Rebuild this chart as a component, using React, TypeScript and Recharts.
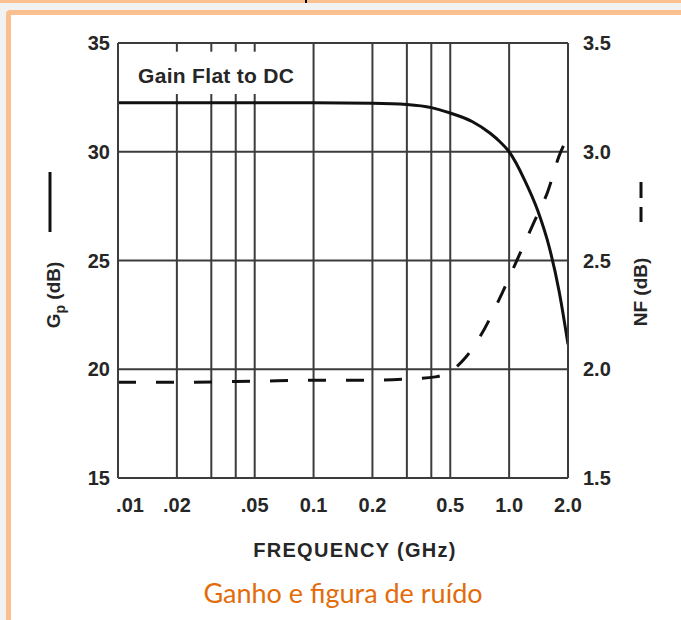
import React from "react";
import { ComposedChart, Line, XAxis, YAxis, CartesianGrid, ReferenceLine, ReferenceArea } from "recharts";

// frequency axis (GHz, log)
const freqTicks = [0.01, 0.02, 0.05, 0.1, 0.2, 0.5, 1, 2];
const freqTickLabels = [".01", ".02", ".05", "0.1", "0.2", "0.5", "1.0", "2.0"];
const freqGrid = [0.02, 0.03, 0.04, 0.05, 0.1, 0.2, 0.3, 0.4, 0.5, 1];
const boxedGrid = [0.02, 0.03, 0.04, 0.05]; // interrupted behind the "Gain Flat to DC" note

const gainTicks = [15, 20, 25, 30, 35];
const nfTicks = [1.5, 2.0, 2.5, 3.0, 3.5];
const nfTickLabels = ["1.5", "2.0", "2.5", "3.0", "3.5"];

// Gp (dB)
const gainFreq = [0.01, 0.1, 0.2, 0.3, 0.4, 0.5, 0.65, 0.8, 0.9, 1.0, 1.2, 1.4, 1.6, 1.8, 2.0];
const gainDb = [32.25, 32.25, 32.23, 32.17, 32.03, 31.78, 31.38, 30.85, 30.45, 30.0, 28.7, 27.3, 25.65, 23.6, 21.15];

// NF (dB)
const nfFreq = [0.01, 0.02, 0.05, 0.1, 0.2, 0.3, 0.42, 0.5, 0.6, 0.71, 0.91, 1.07, 1.33, 1.58, 1.8, 1.95];
const nfDb = [1.94, 1.94, 1.945, 1.95, 1.95, 1.955, 1.965, 1.99, 2.055, 2.15, 2.34, 2.48, 2.67, 2.82, 2.98, 3.05];

const gainData = gainFreq.map((f, i) => ({ f, gain: gainDb[i] }));
const nfData = nfFreq.map((f, i) => ({ f, nf: nfDb[i] }));

const ORANGE = "#fac090";
const GRID = "#3c3c3c";
const INK = "#262626";
const FONT = '"Liberation Sans", Arial, sans-serif';

const tickStyle = { fontSize: 20, fontWeight: "bold", fill: INK, fontFamily: FONT };

function FreqTick(props: any) {
  const { x, y, payload } = props;
  const i = freqTicks.indexOf(payload.value);
  const dx = i === 0 ? 12 : 0;
  return (
    <text x={x + dx} y={y} dy="0.71em" textAnchor="middle" {...tickStyle}>
      {freqTickLabels[i]}
    </text>
  );
}

function FreqLabel(props: any) {
  const { viewBox } = props;
  const cx = viewBox.x + viewBox.width / 2 + 12;
  return (
    <text x={cx} y={viewBox.y + 79} textAnchor="middle" fontSize={20} fontWeight="bold" fill={INK} fontFamily={FONT} letterSpacing={1.3}>
      FREQUENCY (GHz)
    </text>
  );
}

function GainLabel(props: any) {
  const { viewBox } = props;
  const cx = viewBox.x + 53;
  const cy = 295;
  return (
    <g>
      <line x1={cx - 3} x2={cx - 3} y1={172} y2={232} stroke="#111" strokeWidth={3} />
      <text transform={`rotate(-90, ${cx}, ${cy})`} x={cx} y={cy} dy="0.35em" textAnchor="middle" fontSize={19} fontWeight="bold" fill={INK} fontFamily={FONT}>
        G<tspan fontSize={14} dy={5}>p</tspan>
        <tspan dy={-5}> (dB)</tspan>
      </text>
    </g>
  );
}

function NfLabel(props: any) {
  const { viewBox } = props;
  const cx = viewBox.x + 72;
  const cy = 292;
  return (
    <g>
      <line x1={cx + 1} x2={cx + 1} y1={182} y2={198} stroke="#111" strokeWidth={3} />
      <line x1={cx + 1} x2={cx + 1} y1={207} y2={222} stroke="#111" strokeWidth={3} />
      <text transform={`rotate(-90, ${cx}, ${cy})`} x={cx} y={cy} dy="0.35em" textAnchor="middle" fontSize={19} fontWeight="bold" fill={INK} fontFamily={FONT}>
        NF (dB)
      </text>
    </g>
  );
}

export default function App() {
  return (
    <div style={{ position: "absolute", left: 0, top: 0, width: 681, height: 620, background: "#f2f2f2", overflow: "hidden" }}>
      <div style={{ position: "absolute", left: 0, top: 0, width: 681, height: 3, background: ORANGE }} />
      <div style={{ position: "absolute", left: 305, top: 0, width: 2, height: 3, background: "#000" }} />
      <div
        style={{
          position: "absolute",
          left: 6,
          top: 10,
          width: 700,
          height: 640,
          border: `5px solid ${ORANGE}`,
          borderRadius: 4,
          background: "#fff",
        }}
      />
      <div style={{ position: "absolute", left: 0, top: 0 }}>
        <ComposedChart width={681} height={570} margin={{ top: 43, right: 0, bottom: 0, left: 0 }}>
          <CartesianGrid yAxisId="left" vertical={false} stroke={GRID} strokeWidth={2} horizontalValues={gainTicks} />
          <XAxis
            dataKey="f"
            type="number"
            scale="log"
            domain={[0.01, 2]}
            allowDataOverflow
            ticks={freqTicks}
            interval={0}
            height={92}
            tickLine={false}
            tickSize={0}
            tickMargin={20}
            axisLine={{ stroke: GRID, strokeWidth: 2 }}
            tick={<FreqTick />}
            label={<FreqLabel />}
          />
          <YAxis
            yAxisId="left"
            orientation="left"
            domain={[15, 35]}
            ticks={gainTicks}
            interval={0}
            width={118}
            tickLine={false}
            tickSize={0}
            tickMargin={8}
            axisLine={{ stroke: GRID, strokeWidth: 2 }}
            tick={tickStyle}
            label={<GainLabel />}
          />
          <YAxis
            yAxisId="right"
            orientation="right"
            domain={[1.5, 3.5]}
            ticks={nfTicks}
            interval={0}
            width={113}
            tickLine={false}
            tickSize={0}
            tickMargin={15}
            axisLine={{ stroke: GRID, strokeWidth: 2 }}
            tick={tickStyle}
            tickFormatter={(v: number) => nfTickLabels[nfTicks.indexOf(v)] ?? String(v)}
            label={<NfLabel />}
          />
          {freqGrid
            .filter((f) => !boxedGrid.includes(f))
            .map((f) => (
              <ReferenceLine key={f} x={f} yAxisId="left" stroke={GRID} strokeWidth={2} />
            ))}
          {boxedGrid.map((f) => (
            <ReferenceLine
              key={`lo${f}`}
              yAxisId="left"
              segment={[
                { x: f, y: 15 },
                { x: f, y: 32.65 },
              ]}
              stroke={GRID}
              strokeWidth={2}
            />
          ))}
          {boxedGrid.map((f) => (
            <ReferenceLine
              key={`hi${f}`}
              yAxisId="left"
              segment={[
                { x: f, y: 34.6 },
                { x: f, y: 35 },
              ]}
              stroke={GRID}
              strokeWidth={2}
            />
          ))}
          <ReferenceArea
            yAxisId="left"
            x1={0.0101}
            x2={0.1}
            y1={32.55}
            y2={34.45}
            fill="#fff"
            fillOpacity={0}
            stroke="none"
            label={{ value: "Gain Flat to DC", position: "center", fontSize: 21, fontWeight: "bold", fill: INK, fontFamily: FONT, letterSpacing: 0.3 }}
          />
          <Line
            data={gainData}
            yAxisId="left"
            dataKey="gain"
            type="monotone"
            stroke="#111"
            strokeWidth={3}
            dot={false}
            activeDot={false}
            isAnimationActive={false}
          />
          <Line
            data={nfData}
            yAxisId="right"
            dataKey="nf"
            type="monotone"
            stroke="#111"
            strokeWidth={3}
            strokeDasharray="18 20"
            dot={false}
            activeDot={false}
            isAnimationActive={false}
          />
        </ComposedChart>
      </div>
      <div
        style={{
          position: "absolute",
          left: 0,
          width: 686,
          top: 576,
          textAlign: "center",
          fontFamily: "Lato, 'Open Sans', sans-serif",
          fontSize: 27,
          color: "#e36c0a",
        }}
      >
        Ganho e figura de ruído
      </div>
    </div>
  );
}
